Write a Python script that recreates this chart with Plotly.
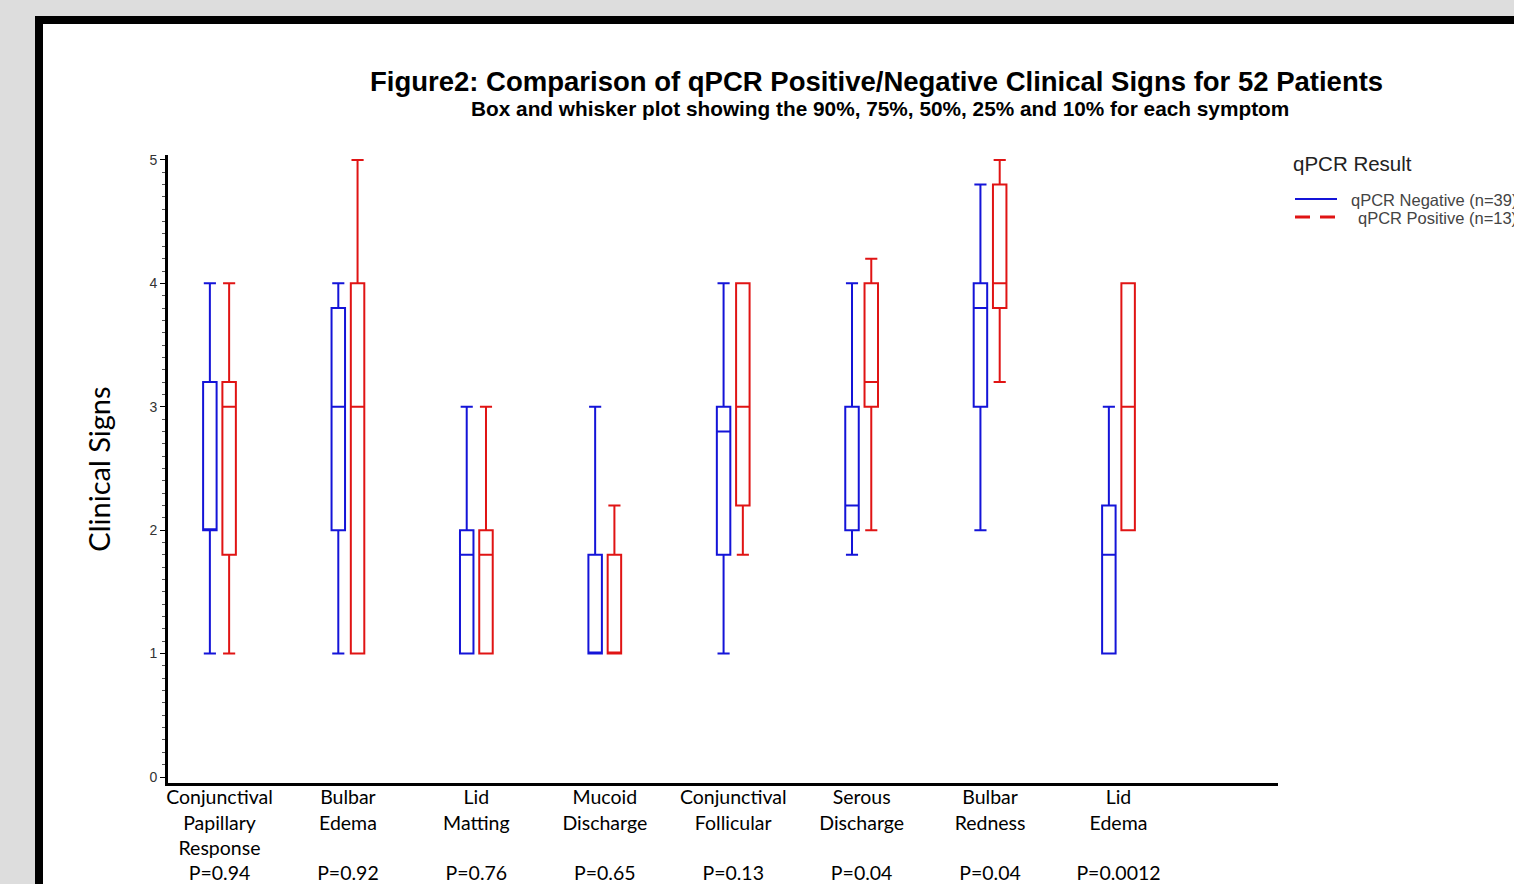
import plotly.graph_objects as go

categories = ["Conjunctival<br>Papillary<br>Response", "Bulbar<br>Edema", "Lid<br>Matting",
              "Mucoid<br>Discharge", "Conjunctival<br>Follicular", "Serous<br>Discharge",
              "Bulbar<br>Redness", "Lid<br>Edema"]
p_values = ["P=0.94", "P=0.92", "P=0.76", "P=0.65", "P=0.13", "P=0.04", "P=0.04", "P=0.0012"]

series_names = ["qPCR Negative (n=39)", "qPCR Positive (n=13)"]

# qPCR Negative (n=39): 10%, 25%, 50%, 75%, 90%
neg_p10 = [1, 1, 1, 1, 1, 1.8, 2, 1]
neg_q1 = [2, 2, 1, 1, 1.8, 2, 3, 1]
neg_med = [2, 3, 1.8, 1, 2.8, 2.2, 3.8, 1.8]
neg_q3 = [3.2, 3.8, 2, 1.8, 3, 3, 4, 2.2]
neg_p90 = [4, 4, 3, 3, 4, 4, 4.8, 3]

# qPCR Positive (n=13)
pos_p10 = [1, 1, 1, 1, 1.8, 2, 3.2, 2]
pos_q1 = [1.8, 1, 1, 1, 2.2, 3, 3.8, 2]
pos_med = [3, 3, 1.8, 1, 3, 3.2, 4, 3]
pos_q3 = [3.2, 4, 2, 1.8, 4, 4, 4.8, 4]
pos_p90 = [4, 5, 3, 2.2, 4, 4.2, 5, 4]

BLUE = "#1414d8"
RED = "#e01414"

positions = list(range(len(categories)))
ticktext = []
for c, p in zip(categories, p_values):
    n_lines = c.count("<br>") + 1
    pad = "<br> " * (3 - n_lines)
    ticktext.append(c + pad + "<br>" + p)

fig = go.Figure()
fig.add_trace(go.Box(x=positions, q1=neg_q1, median=neg_med, q3=neg_q3,
                     lowerfence=neg_p10, upperfence=neg_p90,
                     name=series_names[0], line=dict(color=BLUE, width=2),
                     fillcolor="rgba(0,0,0,0)", whiskerwidth=0.9, boxpoints=False,
                     showlegend=False))
fig.add_trace(go.Box(x=positions, q1=pos_q1, median=pos_med, q3=pos_q3,
                     lowerfence=pos_p10, upperfence=pos_p90,
                     name=series_names[1], line=dict(color=RED, width=2),
                     fillcolor="rgba(0,0,0,0)", whiskerwidth=0.9, boxpoints=False,
                     showlegend=False))

L, R, T, B = 168, 1278, 155, 783
W, H = 1514, 884

def px(xp):
    return (xp - L) / (R - L)

def py(yp):
    return (B - yp) / (B - T)

# legend drawn as paper-referenced shapes + text
legend_shapes = [
    dict(type="line", xref="paper", yref="paper", x0=px(1295), x1=px(1337), y0=py(199), y1=py(199),
         line=dict(color=BLUE, width=2)),
    dict(type="line", xref="paper", yref="paper", x0=px(1295), x1=px(1337), y0=py(217), y1=py(217),
         line=dict(color=RED, width=3, dash="15px,10px")),
]
legend_ann = [
    dict(text="qPCR Result", xref="paper", yref="paper", x=px(1291), y=py(163),
         xanchor="left", yanchor="middle", showarrow=False,
         font=dict(family="Liberation Sans, Arial", size=20.5, color="#222222")),
    dict(text=series_names[0], xref="paper", yref="paper", x=px(1349), y=py(200),
         xanchor="left", yanchor="middle", showarrow=False,
         font=dict(family="Liberation Sans, Arial", size=16.5, color="#444444")),
    dict(text=series_names[1], xref="paper", yref="paper", x=px(1356), y=py(218),
         xanchor="left", yanchor="middle", showarrow=False,
         font=dict(family="Liberation Sans, Arial", size=16.5, color="#444444")),
]

fig.update_layout(
    width=W, height=H,
    margin=dict(l=L, r=W - R, t=T, b=H - B, pad=0),
    paper_bgcolor="#dddddd",
    plot_bgcolor="rgba(0,0,0,0)",
    boxmode="group", boxgap=0.7, boxgroupgap=0.3,
    showlegend=False,
    font=dict(family="Liberation Sans, Arial"),
    shapes=[dict(type="rect", xref="paper", yref="paper", layer="below",
                 x0=px(39), x1=px(1540), y0=py(20), y1=py(920),
                 line=dict(color="black", width=8), fillcolor="white")] + legend_shapes,
    annotations=[
        dict(text="<b>Figure2: Comparison of qPCR Positive/Negative Clinical Signs for 52 Patients</b>",
             xref="paper", yref="paper", x=px(876), y=py(82), xanchor="center", yanchor="middle",
             showarrow=False, font=dict(family="Liberation Sans Narrow, Arial Narrow, Liberation Sans", size=27.5, color="black")),
        dict(text="<b>Box and whisker plot showing the 90%, 75%, 50%, 25% and 10% for each symptom</b>",
             xref="paper", yref="paper", x=px(880), y=py(108), xanchor="center", yanchor="middle",
             showarrow=False, font=dict(family="Liberation Sans Narrow, Arial Narrow, Liberation Sans", size=20.8, color="black")),
    ] + legend_ann,
)

fig.update_xaxes(range=[-0.401, 8.242], tickmode="array", tickvals=positions, ticktext=ticktext,
                 automargin=False,
                 showgrid=False, zeroline=False, showline=True, linecolor="black", linewidth=3,
                 ticks="", ticklabelstandoff=-5,
                 tickfont=dict(family="Lato, Carlito, Calibri", size=19.5, color="black"))
fig.update_yaxes(range=[-0.0486, 5.04], tickmode="array", tickvals=[0, 1, 2, 3, 4, 5],
                 automargin=False,
                 showgrid=False, zeroline=False, showline=True, linecolor="black", linewidth=3,
                 ticks="outside", ticklen=5, tickwidth=1, tickcolor="black",
                 minor=dict(dtick=0.1, ticks="outside", ticklen=3, tickcolor="#555555", tickwidth=1),
                 tickfont=dict(family="Liberation Sans, Arial", size=14, color="#333333"),
                 title=dict(text="Clinical Signs", standoff=31,
                            font=dict(family="Lato, Carlito, Calibri", size=29, color="black")))

fig.write_html("out.html", config={"displayModeBar": False},
               post_script="document.body.style.margin='0px';document.body.style.background='#dddddd';")
